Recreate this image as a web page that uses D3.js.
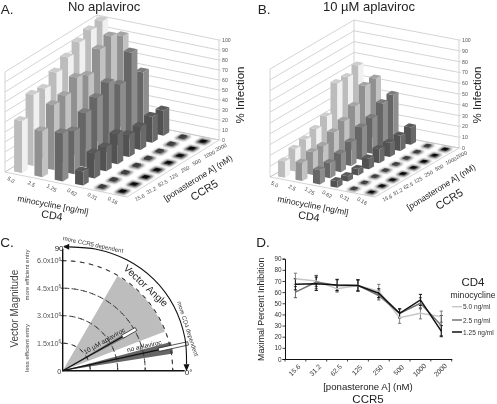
<!DOCTYPE html>
<html><head><meta charset="utf-8">
<script src="https://cdn.jsdelivr.net/npm/d3@7"></script>
<style>html,body{margin:0;padding:0;background:#fff}svg{display:block;filter:blur(0.3px)}text{font-family:"Liberation Sans",Arial,sans-serif}</style>
</head><body><svg id="c" width="497" height="404"></svg>
<script>
const cd4Doses=["5.0","2.5","1.25","0.62","0.31","0.16"];
const ccr5Doses=["15.6","31.2","62.5","125","250","500","1000","2000"];
const pctTicks=[0,10,20,30,40,50,60,70,80,90,100];
// Panel A: % infection, one array per CD4 dose
const noApl50=[52,71,70,79,87,95,100,102];
const noApl25=[46,65,67,78,73,92,98,91];
const noApl125=[48,43,54,62,70,61,86,59];
const noApl062=[14,25,24,30,22,23,26,25];
const noApl031=[1.5,1.5,1.5,1.5,1.5,1.5,1.5,1.5];
const noApl016=[0.5,0.5,0.5,0.5,0.5,0.5,0.5,0.5];
// Panel B
const apl50=[15,21,24,28,34,59,59,64];
const apl25=[17,21,21,28,33,41,54,55];
const apl125=[13,14,17,22,30,33,41,43];
const apl062=[6,5,6,10,13,13,14,16];
const apl031=[1,1,1,1,1,1,1,1];
const apl016=[0.5,0.5,0.5,0.5,0.5,0.5,0.5,0.5];
// Panel C
const magTicks=[1.5e6,3.0e6,4.5e6,6.0e6];
const magLabels=["1.5","3.0","4.5","6.0"];
const sectorLight=[21,60,5.97e6];
const sectorDark=[8.9,14.9,6.1e6];
const sectorDark2=[27.8,31.2,3.9e6];
const meanAngleNone=12.3, meanAngleApl=29.6;
const meanMagNone=[5.35e6,7.0e6];
const meanMagApl=[3.75e6,4.6e6];
const arcAngles=[3,15,30,45,60,75,87];
const arcRadii=[124,126.5,128.5,129,128,126,124];
// Panel D
const inhTicks=[0,10,20,30,40,50,60,70,80,90];
const inh50=[72,70,63,66,61,37,41,38];
const err50=[5,5,3,5,6,5,5,5];
const inh25=[60,69,66,66,57,41,50,30];
const err25=[5,6,5,5,4,4,5,9];
const inh125=[67,67.5,66.5,66,59,41,53,25];
const err125=[5,6,5,5,4,4,5,5];
const legendLabels=["5.0 ng/ml","2.5 ng/ml","1.25 ng/ml"];

const svg=d3.select("#c");
svg.append("defs").append("filter").attr("id","soft").attr("x","-60%").attr("y","-60%").attr("width","220%").attr("height","220%")
  .append("feGaussianBlur").attr("stdDeviation",0.8);

function txt(g,x,y,s,size,opt={}){
  const t=g.append("text").attr("transform",`translate(${x},${y}) rotate(${opt.rot||0})`)
   .attr("text-anchor",opt.anchor||"middle").attr("dominant-baseline","central")
   .attr("font-size",size).attr("fill",opt.fill||"#222").text(s);
  return t;
}

const faceCols=[["#bcbcbc","#f0f0f0","#cdcdcd"],["#909090","#c2c2c2","#a4a4a4"],["#666","#8d8d8d","#7c7c7c"],["#525252","#6a6a6a","#5a5a5a"],["#3a3a3a","#444","#3c3c3c"],["#111","#111","#0a0a0a"]];

function bars3d(rows,G){
  const g=svg.append("g");
  const iS=d3.scaleBand().domain(cd4Doses).range([0,1]).paddingInner(0);
  const jS=d3.scaleBand().domain(ccr5Doses).range([0,1]).paddingInner(0);
  const vS=d3.scaleLinear().domain([0,100]).range([0,G.h]);
  const P=(a,b,v)=>[G.x0+a*G.ix+b*G.jx, G.y0+a*G.iy+b*G.jy-vS(v)];
  const line=d3.line();
  const poly=(pts,fill,extra)=>g.append("path").attr("d",line(pts)+"Z").attr("fill",fill).attr(...(extra||["stroke","none"]));
  poly([P(0,0,0),P(1,0,0),P(1,1,0),P(0,1,0)],"#fff");
  const wall="#c9c9c9";
  pctTicks.forEach(v=>{
    g.append("path").attr("d",line([P(0,0,v),P(0,1,v),P(1,1,v)])).attr("fill","none").attr("stroke",wall).attr("stroke-width",.8);
    txt(g,P(1,1,v)[0]+3,P(1,1,v)[1],v,5.2,{anchor:"start",fill:"#555"});
    g.append("path").attr("d",line([P(1,1,v),[P(1,1,v)[0]+2,P(1,1,v)[1]]])).attr("stroke",wall).attr("stroke-width",.6);
  });
  [[P(0,0,0),P(0,0,100)],[P(0,1,0),P(0,1,100)],[P(1,1,0),P(1,1,100)],[P(0,0,0),P(1,0,0)],[P(1,0,0),P(1,1,0)],[P(0,0,0),P(0,1,0)],[P(0,1,0),P(1,1,0)]]
   .forEach(s=>g.append("path").attr("d",line(s)).attr("stroke",wall).attr("stroke-width",.8));
  const wi=iS.bandwidth()*.4, wj=jS.bandwidth()*.48;
  cd4Doses.forEach((cd,ri)=>ccr5Doses.forEach((cc,ci)=>{
    if(rows[ri][ci]<3){
      const a=iS(cd)+iS.bandwidth()/2, b=jS(cc)+jS.bandwidth()/2;
      const fa=wi*.62, fb=wj*.62;
      g.append("path").attr("d",line([P(a-fa,b-fb,0),P(a+fa,b-fb,0),P(a+fa,b+fb,0),P(a-fa,b+fb,0)])+"Z")
       .attr("fill",ri==5?"#444":"#666").attr("filter","url(#soft)");
    }
  }));
  for(let ci=7;ci>=0;ci--){
    for(let ri=0;ri<6;ri++){
      const v=rows[ri][ci];
      const a=iS(cd4Doses[ri])+iS.bandwidth()/2, b=jS(ccr5Doses[ci])+jS.bandwidth()/2;
      const f=v<3?.62:1;
      const a0=a-wi*f/2,a1=a+wi*f/2,b0=b-wj*f/2,b1=b+wj*f/2;
      const c=faceCols[ri];
      poly([P(a0,b0,0),P(a1,b0,0),P(a1,b0,v),P(a0,b0,v)],c[0]);
      poly([P(a1,b0,0),P(a1,b1,0),P(a1,b1,v),P(a1,b0,v)],c[1]);
      poly([P(a0,b0,v),P(a1,b0,v),P(a1,b1,v),P(a0,b1,v)],c[2]);
    }
  }
  cd4Doses.forEach(d=>{
    const p=P(iS(d)+iS.bandwidth()/2,0,0);
    txt(g,p[0]-4,p[1]+5.5,d,5.3,{rot:30,fill:"#444"});
  });
  ccr5Doses.forEach(d=>{
    const p=P(1,jS(d)+jS.bandwidth()/2,0);
    txt(g,p[0]+2.3,p[1]+6,d,5.3,{rot:-25,anchor:"start",fill:"#444"});
  });
  const L=G.labels;
  txt(g,L.mino[0],L.mino[1],"minocycline [ng/ml]",8.5,{rot:11,fill:"#222"});
  txt(g,L.cd4[0],L.cd4[1],"CD4",10.8,{rot:9});
  txt(g,L.pon[0],L.pon[1],"[ponasterone A] (nM)",8.5,{rot:-32,fill:"#222"});
  txt(g,L.ccr5[0],L.ccr5[1],"CCR5",11,{rot:-32});
  txt(g,L.inf[0],L.inf[1],"% Infection",11.5,{rot:-90});
}

bars3d([noApl50,noApl25,noApl125,noApl062,noApl031,noApl016],
 {x0:5,y0:172,ix:122,iy:25,jx:92,jy:-57,h:100,labels:{mino:[53,205],cd4:[52,215],pon:[198,178],ccr5:[204,190],inf:[240,95]}});
bars3d([apl50,apl25,apl125,apl062,apl031,apl016],
 {x0:270,y0:177,ix:105,iy:20,jx:84,jy:-49,h:108,labels:{mino:[313,205.5],cd4:[309,216],pon:[441,187],ccr5:[449,199],inf:[477,95]}});

const T=svg.append("g");
txt(T,7,9,"A.",13.5);
txt(T,104,6,"No aplaviroc",13);
txt(T,264,9,"B.",13.5);
txt(T,369,6,"10 µM aplaviroc",13);
txt(T,7,242,"C.",13.5);
txt(T,263,242,"D.",13.5);

// Panel C
(function(){
  const ox=62.7, oy=370.7;
  const g=svg.append("g").attr("transform",`translate(${ox},${oy})`);
  const r=d3.scaleLinear().domain([0,6e6]).range([0,110]);
  const ang=d=>d*Math.PI/180;
  const pol=(d,rad)=>[rad*Math.cos(ang(d)),-rad*Math.sin(ang(d))];
  const sector=(a0,a1,m)=>d3.arc().innerRadius(0).outerRadius(r(m)).startAngle(ang(90-a1)).endAngle(ang(90-a0))();
  g.append("path").attr("d",sector(...sectorLight)).attr("fill","#bdbdbd");
  g.append("path").attr("d",sector(...sectorDark)).attr("fill","#666");
  g.append("path").attr("d",sector(...sectorDark2)).attr("fill","#777");
  magTicks.forEach((m,k)=>{
    g.append("path").attr("d",d3.arc().innerRadius(r(m)).outerRadius(r(m)).startAngle(0).endAngle(Math.PI/2)())
     .attr("fill","none").attr("stroke","#333").attr("stroke-width",.9).attr("stroke-dasharray","4 5");
    g.append("line").attr("x1",-2).attr("x2",0).attr("y1",-r(m)).attr("y2",-r(m)).attr("stroke","#222").attr("stroke-width",.8);
    g.append("line").attr("x1",r(m)).attr("x2",r(m)).attr("y1",0).attr("y2",-3).attr("stroke","#222").attr("stroke-width",.8);
    const t=txt(g,-1.5,-r(m),magLabels[k]+"x10",7.2,{anchor:"end",fill:"#555"});
    t.append("tspan").attr("dy",-2).attr("font-size",4.8).text("6");
  });
  [[meanAngleNone,meanMagNone],[meanAngleApl,meanMagApl]].forEach(([a,m])=>{
    const e=pol(a,r(m[0]));
    g.append("line").attr("x1",0).attr("y1",0).attr("x2",e[0]).attr("y2",e[1]).attr("stroke","#111").attr("stroke-width",1.2);
    const hw=1.7, nx=hw*Math.sin(ang(a)), ny=hw*Math.cos(ang(a));
    const s0=pol(a,r(m[0])), s1=pol(a,r(m[1]));
    g.append("path").attr("d",d3.line()([[s0[0]-nx,s0[1]-ny],[s1[0]-nx,s1[1]-ny],[s1[0]+nx,s1[1]+ny],[s0[0]+nx,s0[1]+ny]])+"Z")
     .attr("fill","#fff").attr("stroke","#111").attr("stroke-width",.7);
  });
  g.append("path").attr("d",d3.line()([[0,-122],[0,0],[122,0]])).attr("fill","none").attr("stroke","#111").attr("stroke-width",1.4);
  const pts=arcAngles.map((a,k)=>pol(a,arcRadii[k]));
  g.append("path").attr("d",d3.line().curve(d3.curveCatmullRom)(pts)).attr("fill","none").attr("stroke","#111").attr("stroke-width",1.1);
  const t0=pts[pts.length-1], t1=pts[0];
  g.append("path").attr("d",d3.line()([[t0[0]-6,t0[1]],[t0[0],t0[1]-3],[t0[0],t0[1]+3]])+"Z").attr("fill","#111");
  g.append("path").attr("d",d3.line()([[t1[0],t1[1]+7],[t1[0]-3,t1[1]],[t1[0]+3,t1[1]]])+"Z").attr("fill","#111");
  txt(g,-3.5,1,"0",7.2,{fill:"#333"});
  txt(g,-2,-122,"90°",8,{fill:"#222"});
  txt(g,126,1.5,"0°",8,{fill:"#222"});
  txt(g,30.3,-126.2,"more CCR5 dependent",6,{rot:12,fill:"#333"});
  txt(g,125,-42,"more CD4 dependent",6,{rot:72,fill:"#333"});
  txt(g,83.3,-85,"Vector Angle",10,{rot:43,fill:"#222"});
  txt(g,41.5,-30,"10 µM aplaviroc",6.6,{rot:-29.6,fill:"#222"});
  txt(g,81.5,-25,"no aplaviroc",6.6,{rot:-13,fill:"#222"});
  txt(g,-48.2,-62,"Vector Magnitude",10,{rot:-90,fill:"#444"});
  txt(g,-35.7,-95.7,"more efficient entry",6,{rot:-90,fill:"#444"});
  txt(g,-35.7,-22.7,"less efficient entry",6,{rot:-90,fill:"#444"});
})();

// Panel D
(function(){
  const g=svg.append("g");
  const x=d3.scaleBand().domain(ccr5Doses).range([285,451.7]);
  const y=d3.scaleLinear().domain([0,90]).range([359,258.7]);
  const axX=g.append("g").attr("transform","translate(0,359)").call(d3.axisBottom(x).tickSize(0).tickFormat(""));
  axX.select(".domain").attr("stroke","#111").attr("stroke-width",1);
  const ed=ccr5Doses.map(d=>x(d)).concat(451.7);
  ed.forEach(e=>g.append("line").attr("x1",e).attr("x2",e).attr("y1",359).attr("y2",361.5).attr("stroke","#111").attr("stroke-width",.8));
  const axY=g.append("g").attr("transform","translate(285,0)").call(d3.axisLeft(y).tickValues(inhTicks).tickSize(2.5));
  axY.select(".domain").attr("stroke","#111").attr("stroke-width",1);
  axY.selectAll("line").attr("stroke","#111").attr("stroke-width",.8);
  axY.selectAll("text").attr("font-size",6.4).attr("fill","#333").attr("x",-3.5).attr("font-family","Liberation Sans");
  ccr5Doses.forEach(d=>txt(g,x(d)+x.bandwidth()/2-1,370,d,6.8,{rot:-45,fill:"#333"}));
  const lg=d3.line().x((d,k)=>x(ccr5Doses[k])+x.bandwidth()/2).y(d=>y(d));
  const S=[[inh50,err50,"#c6c6c6",1.4],[inh25,err25,"#747474",1.5],[inh125,err125,"#111",1.5]];
  S.forEach(([v,e,col])=>{
    v.forEach((d,k)=>{
      const cx=x(ccr5Doses[k])+x.bandwidth()/2;
      const ec=col=="#c6c6c6"?"#777":(col=="#747474"?"#555":"#111");
      g.append("line").attr("x1",cx).attr("x2",cx).attr("y1",y(d-e[k])).attr("y2",y(d+e[k])).attr("stroke",ec).attr("stroke-width",.9);
      [d-e[k],d+e[k]].forEach(w=>g.append("line").attr("x1",cx-1.6).attr("x2",cx+1.6).attr("y1",y(w)).attr("y2",y(w)).attr("stroke",ec).attr("stroke-width",1));
    });
  });
  S.forEach(([v,e,col,w])=>g.append("path").attr("d",lg(v)).attr("fill","none").attr("stroke",col).attr("stroke-width",w));
  txt(g,261,309.3,"Maximal Percent Inhibition",8.8,{rot:-90,fill:"#222"});
  txt(g,368,386.7,"[ponasterone A] (nM)",9.6);
  txt(g,368,399,"CCR5",11.5);
  txt(g,473,282,"CD4",11.5);
  txt(g,473,295,"minocycline",8.6);
  const ly=[306.7,320,332];
  legendLabels.forEach((l,k)=>{
    g.append("line").attr("x1",452).attr("x2",462).attr("y1",ly[k]).attr("y2",ly[k]).attr("stroke",S[k][2]).attr("stroke-width",S[k][3]);
    txt(g,463,ly[k],l,6.6,{anchor:"start",fill:"#333"});
  });
})();
</script></body></html>
